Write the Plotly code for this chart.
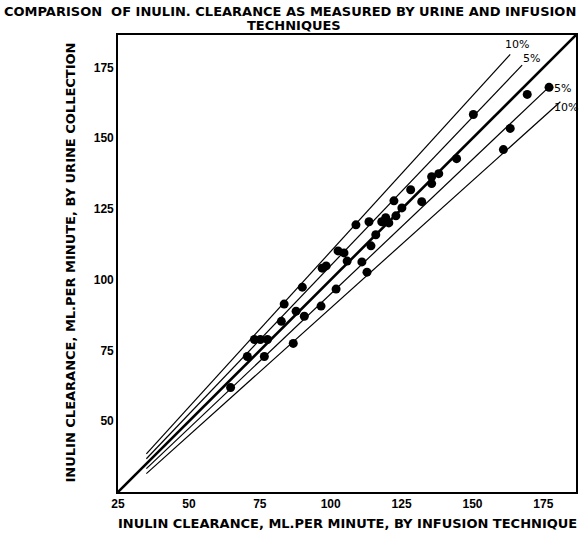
import plotly.graph_objects as go

# Data
infusion = [64.7, 70.6, 76.6, 73.1, 75.2, 77.7, 86.8, 82.6, 83.6, 87.8, 90.7, 90.0,
            96.6, 97.0, 98.4, 102.6, 104.7, 101.9, 105.8, 111.0, 112.8, 108.9, 113.5,
            114.2, 115.9, 118.0, 119.4, 120.5, 123.0, 122.3, 125.1, 128.2, 135.6,
            138.1, 135.6, 144.4, 132.1, 150.3, 169.3, 177.0, 163.3, 160.9]
urine = [61.9, 72.9, 72.9, 78.9, 78.9, 78.9, 77.5, 85.3, 91.4, 88.9, 87.1, 97.4,
         90.7, 104.1, 104.9, 110.2, 109.5, 96.7, 106.6, 106.3, 102.7, 119.4, 120.5,
         112.0, 115.9, 120.5, 121.9, 120.1, 122.6, 127.9, 125.4, 131.8, 136.4,
         137.5, 134.0, 142.8, 127.6, 158.4, 165.5, 168.0, 153.5, 146.0]

band_pct = [10, 5, -5, -10]
band_x_start = [35, 35, 35, 35]
band_x_end = [163.3, 167.5, 177.3, 181.0]
band_labels = ["10%", "5%", "5%", "10%"]
label_x = [165.6, 170.7, 181.6, 182.8]
label_y = [183.0, 178.3, 167.7, 161.0]

x_ticks = [25, 50, 75, 100, 125, 150, 175]
y_ticks = [50, 75, 100, 125, 150, 175]
axis_min, axis_max = 25, 186.5

FONT = "DejaVu Sans"
TICKFONT = "Liberation Sans"

fig = go.Figure()

# identity line
fig.add_trace(go.Scatter(x=[axis_min, axis_max], y=[axis_min, axis_max], mode="lines",
                         line=dict(color="black", width=2.6), showlegend=False,
                         hoverinfo="skip"))
# percentage bands
for p, xs, xe in zip(band_pct, band_x_start, band_x_end):
    f = 1 + p / 100.0
    fig.add_trace(go.Scatter(x=[xs, xe], y=[xs * f, xe * f], mode="lines",
                             line=dict(color="black", width=1.2), showlegend=False,
                             hoverinfo="skip"))

fig.add_trace(go.Scatter(x=infusion, y=urine, mode="markers",
                         marker=dict(color="black", size=9), showlegend=False))

for t, lx, ly in zip(band_labels, label_x, label_y):
    fig.add_annotation(x=lx, y=ly, text=t, showarrow=False,
                       xanchor="center", yanchor="middle",
                       font=dict(family=FONT, size=11, color="black"))

ann_font = dict(family=FONT, size=13, color="black")
ann_common = dict(xref="paper", yref="paper", showarrow=False, font=ann_font,
                  xanchor="center", yanchor="middle")
fig.add_annotation(x=0.376, y=1.052,
                   text="<b>COMPARISON  OF INULIN. CLEARANCE AS MEASURED BY URINE AND INFUSION</b>",
                   **ann_common)
fig.add_annotation(x=0.385, y=1.021, text="<b>TECHNIQUES</b>", **ann_common)
fig.add_annotation(x=-0.104, y=0.503, textangle=-90,
                   text="<b>INULIN CLEARANCE, ML.PER MINUTE, BY URINE COLLECTION</b>",
                   **ann_common)
fig.add_annotation(x=0.502, y=-0.068,
                   text="<b>INULIN CLEARANCE, ML.PER MINUTE, BY INFUSION TECHNIQUE</b>",
                   **ann_common)

axis_common = dict(showgrid=False, zeroline=False, showline=True, linecolor="black",
                   linewidth=1.6, mirror=True, ticks="",
                   tickfont=dict(family=TICKFONT, size=12, color="black"))
fig.update_xaxes(range=[axis_min, axis_max], tickvals=x_ticks,
                 ticktext=[f"<b>{v}</b>" for v in x_ticks], **axis_common)
fig.update_yaxes(range=[axis_min, axis_max], tickvals=y_ticks,
                 ticktext=[f"<b>{v}</b>" for v in y_ticks], **axis_common)

fig.update_layout(width=580, height=537, margin=dict(l=118, r=2, t=35, b=45),
                  plot_bgcolor="white", paper_bgcolor="white")

fig.write_html("out.html", config={"displayModeBar": False},
               post_script="document.body.style.margin='0';document.body.style.overflow='hidden';")
